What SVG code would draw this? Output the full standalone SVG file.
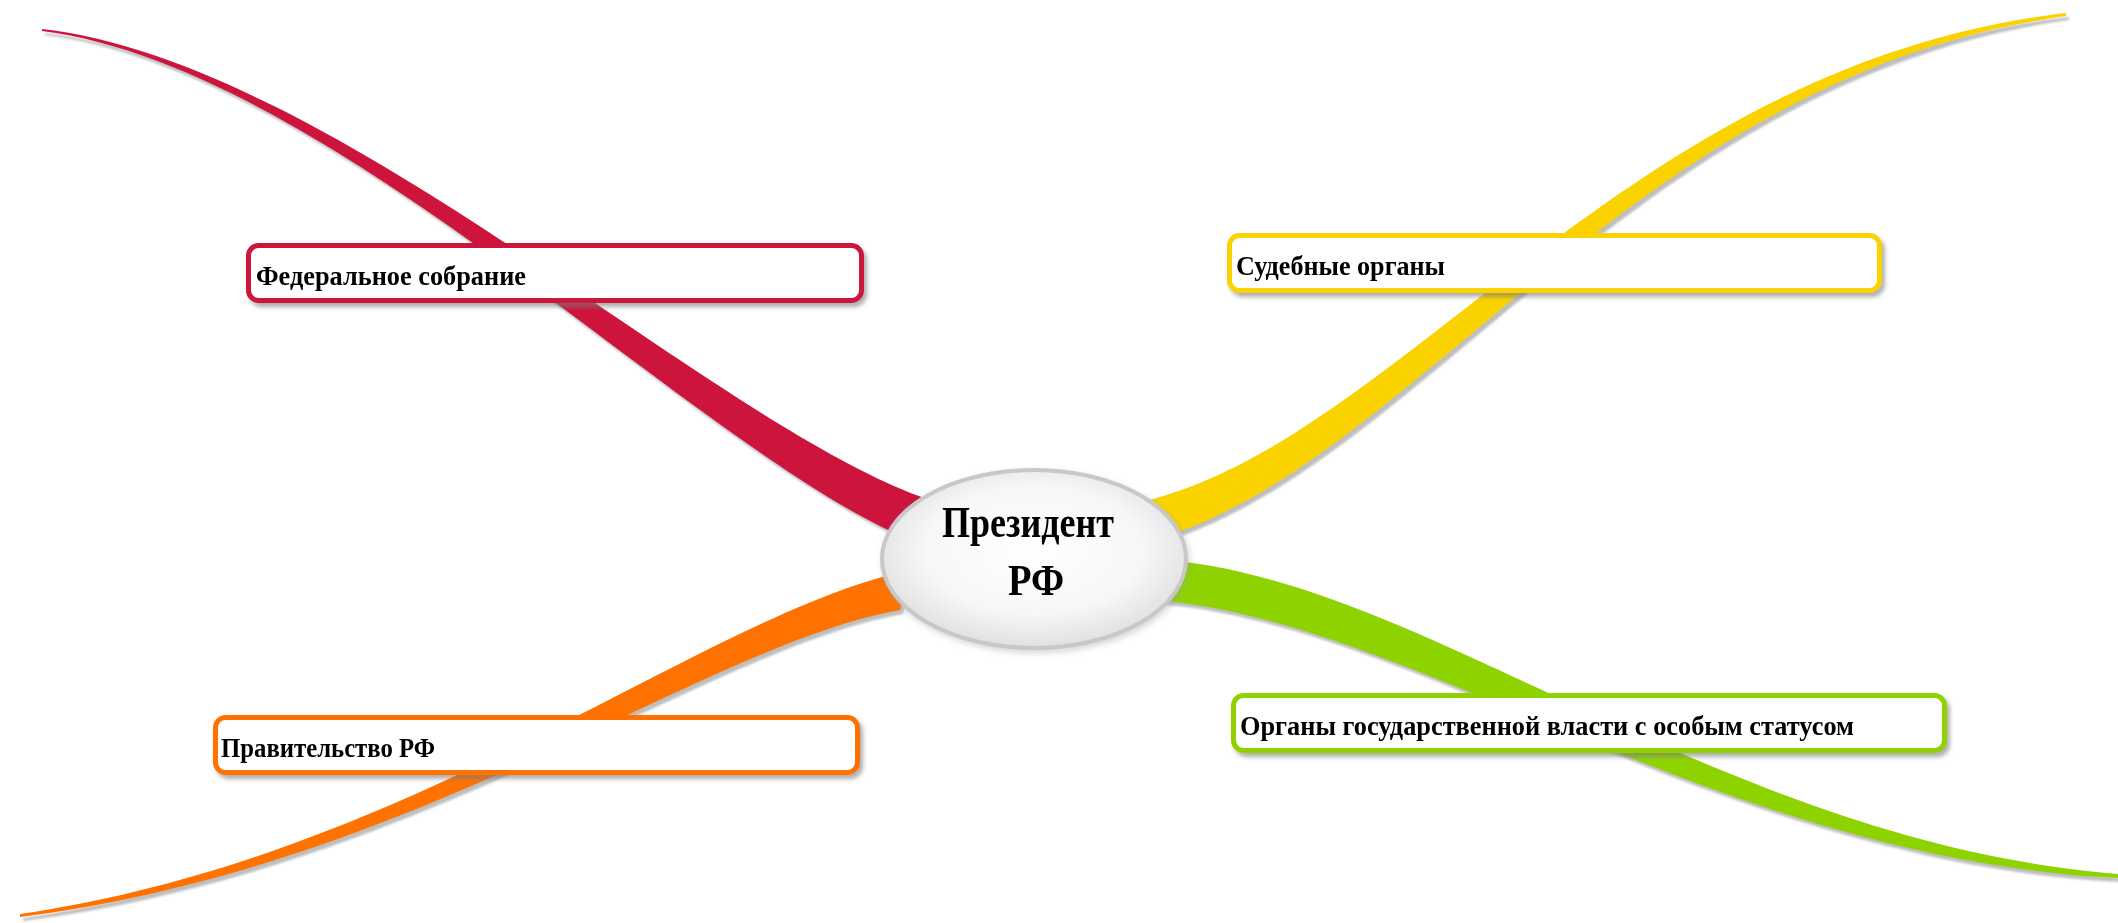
<svg xmlns="http://www.w3.org/2000/svg" width="2118" height="923" viewBox="0 0 2118 923">
  <defs>
    <radialGradient id="ellGrad" cx="50%" cy="45%" r="55%">
      <stop offset="0%" stop-color="#ffffff"/>
      <stop offset="65%" stop-color="#f7f7f7"/>
      <stop offset="100%" stop-color="#e0e0e0"/>
    </radialGradient>
    <filter id="boxShadow" x="-5%" y="-30%" width="110%" height="170%">
      <feDropShadow dx="3" dy="4" stdDeviation="2" flood-color="#7a7a7a" flood-opacity="0.6"/>
    </filter>
    <filter id="ellShadow" x="-10%" y="-15%" width="120%" height="135%">
      <feDropShadow dx="2" dy="3" stdDeviation="3" flood-color="#9a9a9a" flood-opacity="0.4"/>
    </filter>
    <filter id="blur1" x="-5%" y="-5%" width="110%" height="110%">
      <feGaussianBlur stdDeviation="1.2"/>
    </filter>
  </defs>
  <style>
    .shadow { fill: #a8a8a8; opacity: 0.75; }
    .box { fill: #ffffff; stroke-width: 5; }
    .lbl { font-family: "Liberation Serif", "Times New Roman", serif; font-weight: bold; font-size: 28px; fill: #000000; }
    .ctr { font-family: "Liberation Serif", "Times New Roman", serif; font-weight: bold; font-size: 44px; fill: #000000; text-anchor: middle; }
  </style>
  <rect width="2118" height="923" fill="#ffffff"/>

  <g id="connectors">
    <g transform="translate(3,4)" filter="url(#blur1)">
      <path class="shadow" d="M 927,499 C 712,425 335,62 42,29 L 42,31 C 335,68 700,455 913,541 Z"/>
      <path class="shadow" d="M 1126,505 C 1395,455 1617,65 2066,13 L 2066,16 C 1623,77 1405,485 1134,545 Z"/>
      <path class="shadow" d="M 910,570 C 700,615 420,855 20,914 L 20,917 C 420,866 702,645 900,610 Z"/>
      <path class="shadow" d="M 1165,560 C 1425,580 1722,842 2118,874 L 2118,878 C 1718,858 1415,620 1155,600 Z"/>
    </g>
    <path id="edge-fed" fill="#CC143C" d="M 927,499 C 712,425 335,62 42,29 L 42,31 C 335,68 700,455 913,541 Z"/>
    <path id="edge-sud" fill="#F9D200" d="M 1126,505 C 1395,455 1617,65 2066,13 L 2066,16 C 1623,77 1405,485 1134,545 Z"/>
    <path id="edge-prav" fill="#FF7200" d="M 910,570 C 700,615 420,855 20,914 L 20,917 C 420,866 702,645 900,610 Z"/>
    <path id="edge-org" fill="#8ED300" d="M 1165,560 C 1425,580 1722,842 2118,874 L 2118,878 C 1718,858 1415,620 1155,600 Z"/>
  </g>

  <g id="node-center">
    <ellipse cx="1034" cy="559" rx="152" ry="89" fill="url(#ellGrad)" stroke="#c8c8c8" stroke-width="4" filter="url(#ellShadow)"/>
    <text class="ctr" x="1028" y="537" textLength="172" lengthAdjust="spacingAndGlyphs">Президент</text>
    <text class="ctr" x="1036" y="595" textLength="56" lengthAdjust="spacingAndGlyphs">РФ</text>
  </g>

  <g id="node-fed">
    <rect class="box" x="248.5" y="245.5" width="613" height="55" rx="10" stroke="#CC143C" filter="url(#boxShadow)"/>
    <text class="lbl" x="256" y="285" textLength="270" lengthAdjust="spacingAndGlyphs">Федеральное собрание</text>
  </g>

  <g id="node-sud">
    <rect class="box" x="1229.5" y="235.5" width="650" height="55" rx="10" stroke="#F9D200" filter="url(#boxShadow)"/>
    <text class="lbl" x="1236" y="275" textLength="209" lengthAdjust="spacingAndGlyphs">Судебные органы</text>
  </g>

  <g id="node-prav">
    <rect class="box" x="215.5" y="717.5" width="642" height="55" rx="10" stroke="#FF7200" filter="url(#boxShadow)"/>
    <text class="lbl" x="221" y="757" textLength="214" lengthAdjust="spacingAndGlyphs">Правительство РФ</text>
  </g>

  <g id="node-org">
    <rect class="box" x="1233.5" y="695.5" width="711" height="55" rx="10" stroke="#8ED300" filter="url(#boxShadow)"/>
    <text class="lbl" x="1240" y="735" textLength="614" lengthAdjust="spacingAndGlyphs">Органы государственной власти с особым статусом</text>
  </g>
</svg>
